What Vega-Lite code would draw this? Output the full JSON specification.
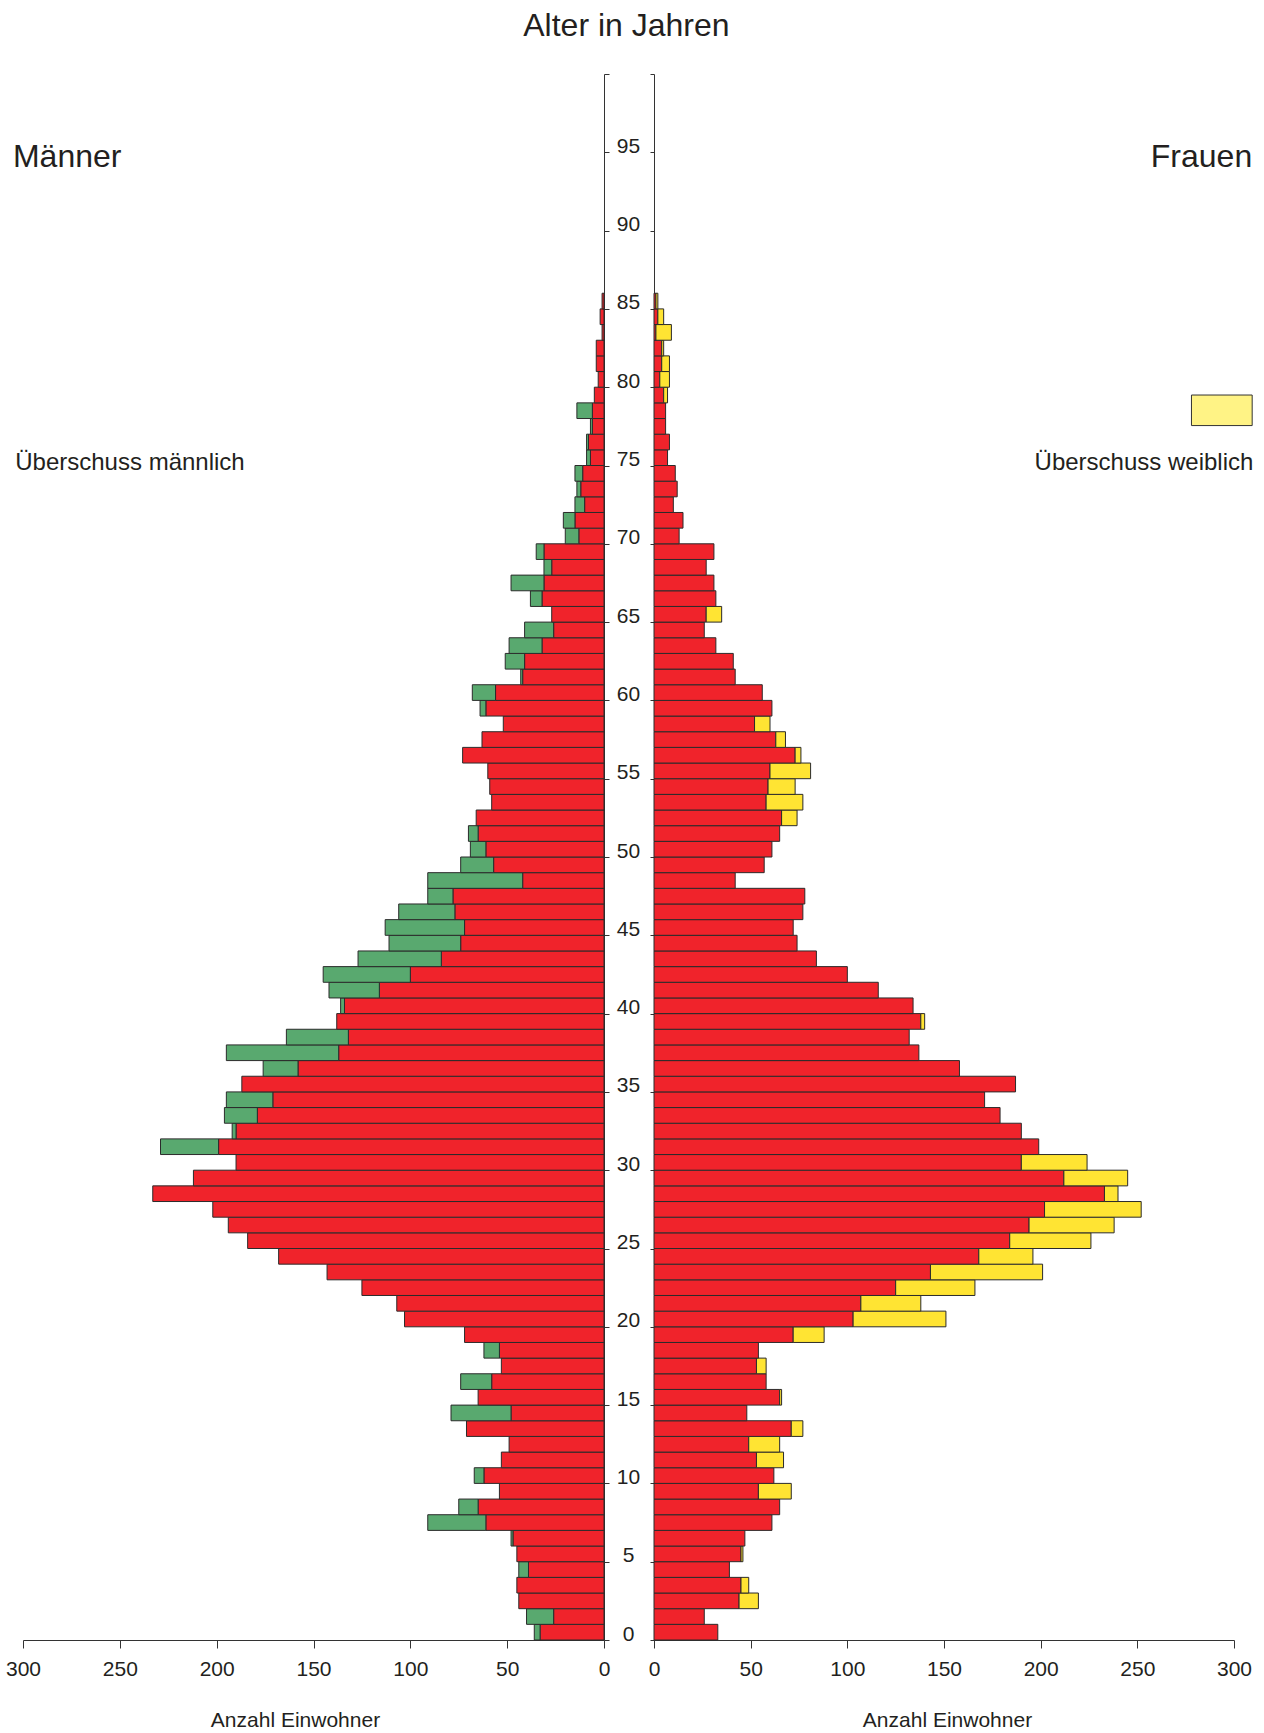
{
  "$schema": "https://vega.github.io/schema/vega-lite/v6.json",
  "padding": {"left": 5, "top": 10, "right": 5, "bottom": 5},
  "background": "white",
  "config": {
    "font": "Liberation Sans",
    "view": {"stroke": null},
    "axis": {"grid": false, "labelColor": "#231f20", "titleColor": "#231f20", "domainColor": "#333333", "tickColor": "#333333", "labelFont": "Liberation Sans", "titleFont": "Liberation Sans"}
  },
  "title": {"text": "Alter in Jahren", "fontSize": 32, "fontWeight": "normal", "color": "#231f20", "anchor": "middle", "offset": 14, "dx": -3},
  "datasets": {
    "pop": [
      {"a":0,"b":1,"r":33,"g":3,"y":0},
      {"a":1,"b":2,"r":26,"g":14,"y":0},
      {"a":2,"b":3,"r":44,"g":0,"y":10},
      {"a":3,"b":4,"r":45,"g":0,"y":4},
      {"a":4,"b":5,"r":39,"g":5,"y":0},
      {"a":5,"b":6,"r":45,"g":0,"y":1},
      {"a":6,"b":7,"r":47,"g":1,"y":0},
      {"a":7,"b":8,"r":61,"g":30,"y":0},
      {"a":8,"b":9,"r":65,"g":10,"y":0},
      {"a":9,"b":10,"r":54,"g":0,"y":17},
      {"a":10,"b":11,"r":62,"g":5,"y":0},
      {"a":11,"b":12,"r":53,"g":0,"y":14},
      {"a":12,"b":13,"r":49,"g":0,"y":16},
      {"a":13,"b":14,"r":71,"g":0,"y":6},
      {"a":14,"b":15,"r":48,"g":31,"y":0},
      {"a":15,"b":16,"r":65,"g":0,"y":1},
      {"a":16,"b":17,"r":58,"g":16,"y":0},
      {"a":17,"b":18,"r":53,"g":0,"y":5},
      {"a":18,"b":19,"r":54,"g":8,"y":0},
      {"a":19,"b":20,"r":72,"g":0,"y":16},
      {"a":20,"b":21,"r":103,"g":0,"y":48},
      {"a":21,"b":22,"r":107,"g":0,"y":31},
      {"a":22,"b":23,"r":125,"g":0,"y":41},
      {"a":23,"b":24,"r":143,"g":0,"y":58},
      {"a":24,"b":25,"r":168,"g":0,"y":28},
      {"a":25,"b":26,"r":184,"g":0,"y":42},
      {"a":26,"b":27,"r":194,"g":0,"y":44},
      {"a":27,"b":28,"r":202,"g":0,"y":50},
      {"a":28,"b":29,"r":233,"g":0,"y":7},
      {"a":29,"b":30,"r":212,"g":0,"y":33},
      {"a":30,"b":31,"r":190,"g":0,"y":34},
      {"a":31,"b":32,"r":199,"g":30,"y":0},
      {"a":32,"b":33,"r":190,"g":2,"y":0},
      {"a":33,"b":34,"r":179,"g":17,"y":0},
      {"a":34,"b":35,"r":171,"g":24,"y":0},
      {"a":35,"b":36,"r":187,"g":0,"y":0},
      {"a":36,"b":37,"r":158,"g":18,"y":0},
      {"a":37,"b":38,"r":137,"g":58,"y":0},
      {"a":38,"b":39,"r":132,"g":32,"y":0},
      {"a":39,"b":40,"r":138,"g":0,"y":2},
      {"a":40,"b":41,"r":134,"g":2,"y":0},
      {"a":41,"b":42,"r":116,"g":26,"y":0},
      {"a":42,"b":43,"r":100,"g":45,"y":0},
      {"a":43,"b":44,"r":84,"g":43,"y":0},
      {"a":44,"b":45,"r":74,"g":37,"y":0},
      {"a":45,"b":46,"r":72,"g":41,"y":0},
      {"a":46,"b":47,"r":77,"g":29,"y":0},
      {"a":47,"b":48,"r":78,"g":13,"y":0},
      {"a":48,"b":49,"r":42,"g":49,"y":0},
      {"a":49,"b":50,"r":57,"g":17,"y":0},
      {"a":50,"b":51,"r":61,"g":8,"y":0},
      {"a":51,"b":52,"r":65,"g":5,"y":0},
      {"a":52,"b":53,"r":66,"g":0,"y":8},
      {"a":53,"b":54,"r":58,"g":0,"y":19},
      {"a":54,"b":55,"r":59,"g":0,"y":14},
      {"a":55,"b":56,"r":60,"g":0,"y":21},
      {"a":56,"b":57,"r":73,"g":0,"y":3},
      {"a":57,"b":58,"r":63,"g":0,"y":5},
      {"a":58,"b":59,"r":52,"g":0,"y":8},
      {"a":59,"b":60,"r":61,"g":3,"y":0},
      {"a":60,"b":61,"r":56,"g":12,"y":0},
      {"a":61,"b":62,"r":42,"g":1,"y":0},
      {"a":62,"b":63,"r":41,"g":10,"y":0},
      {"a":63,"b":64,"r":32,"g":17,"y":0},
      {"a":64,"b":65,"r":26,"g":15,"y":0},
      {"a":65,"b":66,"r":27,"g":0,"y":8},
      {"a":66,"b":67,"r":32,"g":6,"y":0},
      {"a":67,"b":68,"r":31,"g":17,"y":0},
      {"a":68,"b":69,"r":27,"g":4,"y":0},
      {"a":69,"b":70,"r":31,"g":4,"y":0},
      {"a":70,"b":71,"r":13,"g":7,"y":0},
      {"a":71,"b":72,"r":15,"g":6,"y":0},
      {"a":72,"b":73,"r":10,"g":5,"y":0},
      {"a":73,"b":74,"r":12,"g":2,"y":0},
      {"a":74,"b":75,"r":11,"g":4,"y":0},
      {"a":75,"b":76,"r":7,"g":2,"y":0},
      {"a":76,"b":77,"r":8,"g":1,"y":0},
      {"a":77,"b":78,"r":6,"g":1,"y":0},
      {"a":78,"b":79,"r":6,"g":8,"y":0},
      {"a":79,"b":80,"r":5,"g":0,"y":2},
      {"a":80,"b":81,"r":3,"g":0,"y":5},
      {"a":81,"b":82,"r":4,"g":0,"y":4},
      {"a":82,"b":83,"r":4,"g":0,"y":1},
      {"a":83,"b":84,"r":1,"g":0,"y":8},
      {"a":84,"b":85,"r":2,"g":0,"y":3},
      {"a":85,"b":86,"r":1,"g":0,"y":1}
    ]
  },
  "bounds": "flush",
  "spacing": 50,
  "hconcat": [
    {
      "width": 581,
      "height": 1566,
      "layer": [
        {
          "data": {"name": "pop"},
          "transform": [
            {"fold": ["r", "g"], "as": ["part", "n"]},
            {"filter": "datum.n > 0"},
            {"stack": "n", "groupby": ["a"], "sort": [{"field": "part", "order": "descending"}], "as": ["n0", "n1"], "offset": "zero"}
          ],
          "mark": {"type": "rect", "stroke": "#2b2b2b", "strokeWidth": 1},
          "encoding": {
            "y": {"field": "a", "type": "quantitative", "scale": {"domain": [0, 100], "nice": false},
              "axis": {"orient": "right", "title": null, "values": [0,5,10,15,20,25,30,35,40,45,50,55,60,65,70,75,80,85,90,95,100],
                "labelExpr": "datum.value >= 100 ? '' : datum.label", "tickSize": 5, "labelAlign": "center", "labelBaseline": "alphabetic",
                "labelPadding": 19, "labelFontSize": 21, "labelFlush": false, "labelOverlap": false, "domainWidth": 1}},
            "y2": {"field": "b"},
            "x": {"field": "n0", "type": "quantitative", "scale": {"domain": [0, 300], "reverse": true, "nice": false},
              "axis": {"orient": "bottom", "values": [0,50,100,150,200,250,300], "tickSize": 8, "labelFontSize": 21, "labelPadding": 10,
                "labelFlush": false, "title": "Anzahl Einwohner", "titleFontSize": 21, "titleFontWeight": "normal", "titlePadding": 30, "titleX": 272}},
            "x2": {"field": "n1"},
            "color": {"field": "part", "type": "nominal", "scale": {"domain": ["r", "g", "y"], "range": ["#f0232b", "#59a96f", "#ffe433"]}, "legend": null}
          }
        },
        {
          "data": {"values": [{}]},
          "mark": {"type": "text", "text": "Männer", "fontSize": 32, "align": "left", "baseline": "middle", "color": "#231f20"},
          "encoding": {"x": {"datum": 305.2, "type": "quantitative"}, "y": {"datum": 94.7, "type": "quantitative"}}
        },
        {
          "data": {"values": [{}]},
          "mark": {"type": "text", "text": "Überschuss männlich", "fontSize": 24, "align": "left", "baseline": "middle", "color": "#231f20"},
          "encoding": {"x": {"datum": 304, "type": "quantitative"}, "y": {"datum": 75.16, "type": "quantitative"}}
        }
      ]
    },
    {
      "width": 580,
      "height": 1566,
      "layer": [
        {
          "data": {"name": "pop"},
          "transform": [
            {"fold": ["r", "y"], "as": ["part", "n"]},
            {"filter": "datum.n > 0"},
            {"stack": "n", "groupby": ["a"], "sort": [{"field": "part", "order": "ascending"}], "as": ["n0", "n1"], "offset": "zero"}
          ],
          "mark": {"type": "rect", "stroke": "#2b2b2b", "strokeWidth": 1},
          "encoding": {
            "y": {"field": "a", "type": "quantitative", "scale": {"domain": [0, 100], "nice": false},
              "axis": {"orient": "left", "title": null, "values": [0,5,10,15,20,25,30,35,40,45,50,55,60,65,70,75,80,85,90,95,100],
                "labels": false, "tickSize": 4, "domainWidth": 1}},
            "y2": {"field": "b"},
            "x": {"field": "n0", "type": "quantitative", "scale": {"domain": [0, 300], "nice": false},
              "axis": {"orient": "bottom", "values": [0,50,100,150,200,250,300], "tickSize": 8, "labelFontSize": 21, "labelPadding": 10,
                "labelFlush": false, "title": "Anzahl Einwohner", "titleFontSize": 21, "titleFontWeight": "normal", "titlePadding": 30, "titleX": 293}},
            "x2": {"field": "n1"},
            "color": {"field": "part", "type": "nominal", "scale": {"domain": ["r", "g", "y"], "range": ["#f0232b", "#59a96f", "#ffe433"]}, "legend": null}
          }
        },
        {
          "data": {"values": [{}]},
          "mark": {"type": "rect", "fill": "#fff385", "stroke": "#333333", "strokeWidth": 1},
          "encoding": {"x": {"datum": 278, "type": "quantitative"}, "x2": {"datum": 309.4}, "y": {"datum": 79.5, "type": "quantitative"}, "y2": {"datum": 77.55}}
        },
        {
          "data": {"values": [{}]},
          "mark": {"type": "text", "text": "Frauen", "fontSize": 32, "align": "right", "baseline": "middle", "color": "#231f20"},
          "encoding": {"x": {"datum": 309.4, "type": "quantitative"}, "y": {"datum": 94.7, "type": "quantitative"}}
        },
        {
          "data": {"values": [{}]},
          "mark": {"type": "text", "text": "Überschuss weiblich", "fontSize": 24, "align": "right", "baseline": "middle", "color": "#231f20"},
          "encoding": {"x": {"datum": 310, "type": "quantitative"}, "y": {"datum": 75.16, "type": "quantitative"}}
        }
      ]
    }
  ]
}
